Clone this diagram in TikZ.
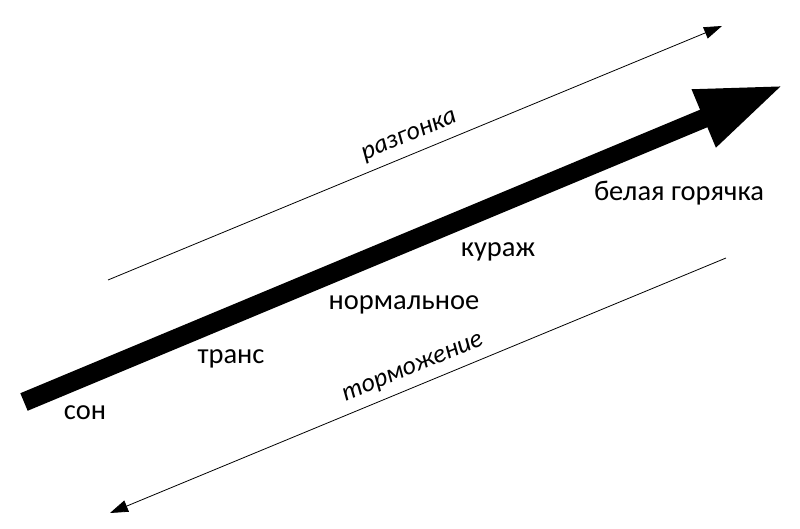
\documentclass[tikz,border=0pt]{standalone}
\usepackage{fontspec}
\setmainfont{Carlito}
\usepackage{tikz}
\usetikzlibrary{arrows.meta}

\begin{document}
\begin{tikzpicture}[x=1pt,y=1pt]

	\tikzset{big arrow/.style={line width=19pt, -{Triangle[length=87pt,width=57pt]}}}
	\tikzset{thin arrow/.style={line width=0.8pt, -{Triangle[length=18pt,width=12pt]}}}
	\tikzset{level/.style={font=\fontsize{28.5}{32}\selectfont, anchor=base}}
	\tikzset{way/.style={font=\fontsize{26}{30}\selectfont\itshape, sloped, inner sep=8pt}}

	\useasboundingbox (0,0) rectangle (800,529);

	\coordinate (tail) at (24,127);
	\coordinate (tip) at (784,444);
	\draw[big arrow] (tail) -- (tip);

	\coordinate (upstart) at (108,249);
	\coordinate (upend) at (722,503);
	\draw[thin arrow] (upstart) -- (upend) node[way, above, pos=0.502] (razgonka) {разгонка};

	\coordinate (downstart) at (726,271);
	\coordinate (downend) at (110,16);
	\draw[thin arrow] (downstart) -- (downend) node[way, above, pos=0.497] (tormozhenie) {торможение};

	\node[level] (son) at (85,109) {сон};
	\node[level] (trans) at (231,165) {транс};
	\node[level] (normal) at (404,219) {нормальное};
	\node[level] (kurazh) at (498,272) {кураж};
	\node[level] (belaya) at (679,328) {белая горячка};

\end{tikzpicture}
\end{document}
